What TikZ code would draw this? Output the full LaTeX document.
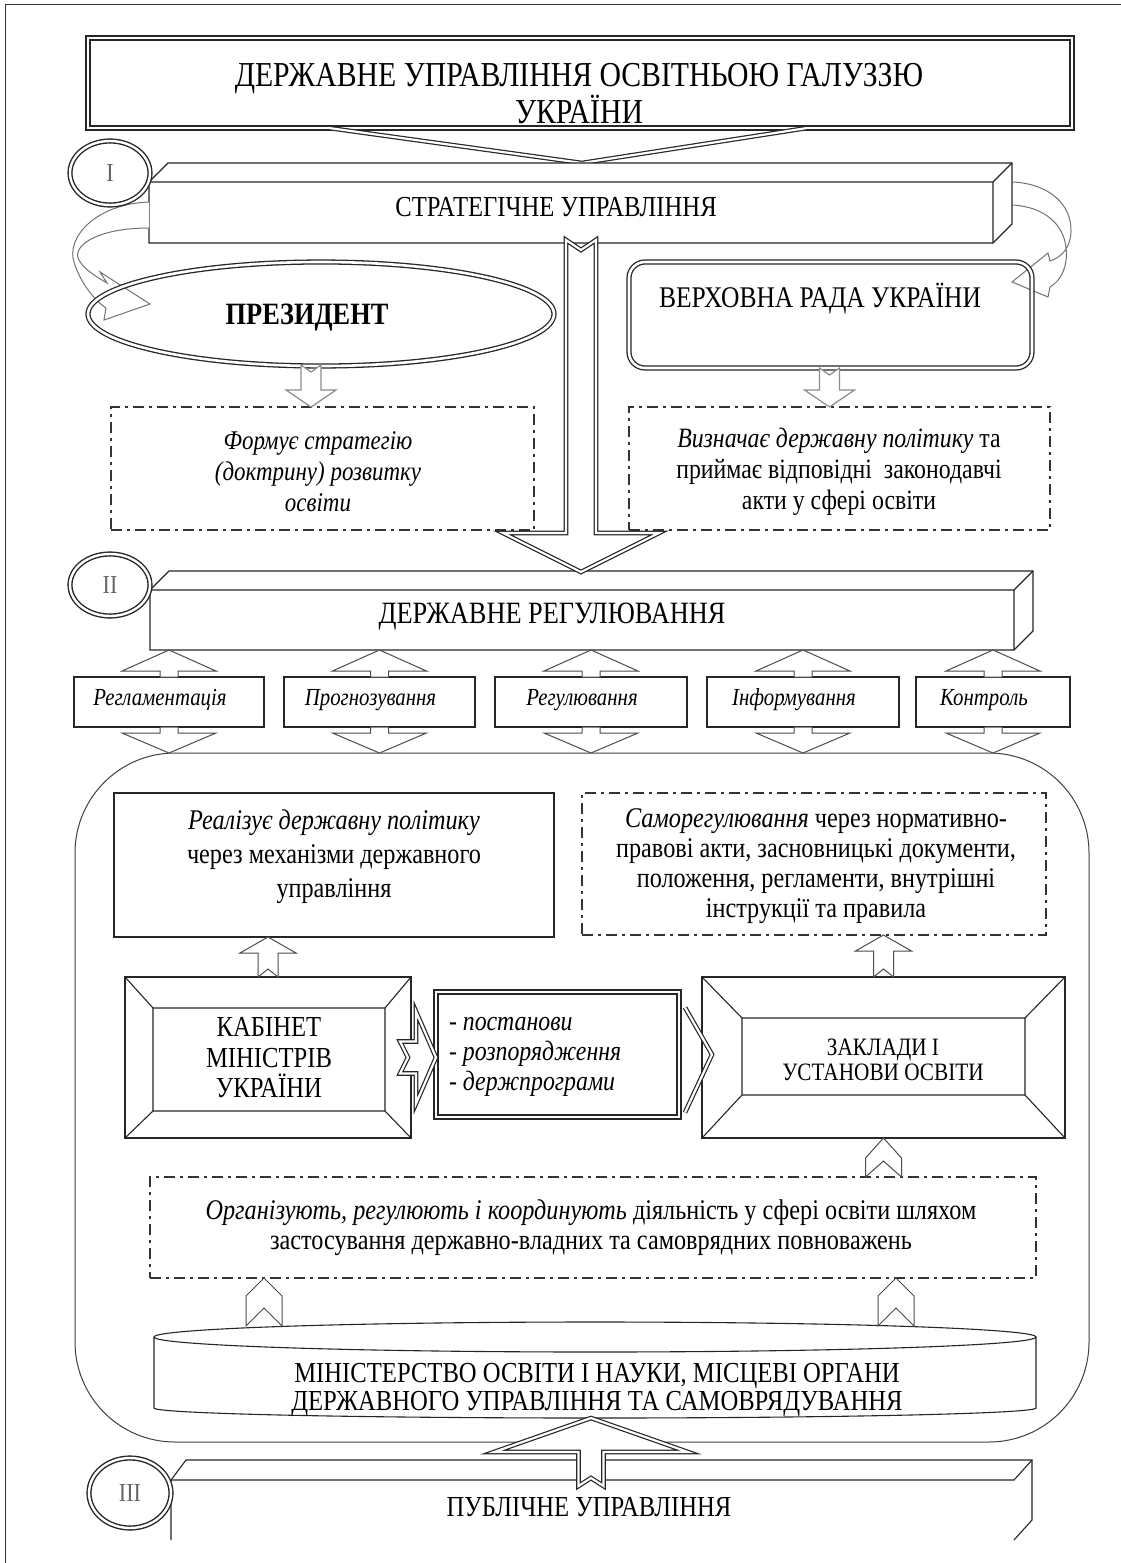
\documentclass[tikz,border=0pt]{standalone}
\usepackage{fontspec}
\setmainfont[FakeStretch=0.85]{Liberation Serif}
\usetikzlibrary{calc,fit,shapes.geometric}
\newcommand\fsz[2]{\fontsize{#1pt}{#2pt}\selectfont}
% vertical block arrow: [style]{tail}{tip}{shaft half}{head half}{head length}{notch}
\newcommand\varrow[7][]{%
  \draw[#1] let \p1=#2, \p2=#3, \n1={ifthenelse(\y2<\y1,1,-1)} in
  (\x1-#4,\y1) -- (\x1-#4,\y2+\n1*#6) -- (\x1-#5,\y2+\n1*#6) -- (\x1,\y2)
  -- (\x1+#5,\y2+\n1*#6) -- (\x1+#4,\y2+\n1*#6) -- (\x1+#4,\y1) -- (\x1,\y1-\n1*#7) -- cycle;}
% horizontal block arrow
\newcommand\harrow[7][]{%
  \draw[#1] let \p1=#2, \p2=#3, \n1={ifthenelse(\x2<\x1,1,-1)} in
  (\x1,\y1-#4) -- (\x2+\n1*#6,\y1-#4) -- (\x2+\n1*#6,\y1-#5) -- (\x2,\y1)
  -- (\x2+\n1*#6,\y1+#5) -- (\x2+\n1*#6,\y1+#4) -- (\x1,\y1+#4) -- (\x1-\n1*#7,\y1) -- cycle;}
% 3D bar: name, x1, y1 (front top), x2, y2 (front bottom), depth
\newcommand\threedbar[6]{%
  \draw[ln, fill=white] (#2,#3) -- ({#2+#6},{#3-#6}) -- ({#4+#6},{#3-#6}) -- ({#4+#6},{#5-#6}) -- (#4,#5) -- (#2,#5) -- cycle;
  \draw[ln] (#2,#3) -- (#4,#3) -- ({#4+#6},{#3-#6}) (#4,#3) -- (#4,#5);
  \node[fit={(#2,#3)(#4,#5)}] (#1) {};}
% bevelled frame: name, outer x1 y1 x2 y2, inner x1 y1 x2 y2
\newcommand\bevelbox[9]{%
  \draw[ln, fill=white] (#2,#3) rectangle (#4,#5);
  \draw[ln] (#6,#7) rectangle (#8,#9)
    (#2,#3) -- (#6,#7) (#4,#3) -- (#8,#7) (#2,#5) -- (#6,#9) (#4,#5) -- (#8,#9);
  \node[fit={(#2,#3)(#4,#5)}] (#1) {};}
\tikzset{
  every node/.style={inner sep=0pt, outer sep=0pt},
  ln/.style={draw=black!85, line width=1.1pt},
  dbl/.style={draw=black!85, line width=1pt, double=white, double distance=2.2pt, line join=miter},
  dd/.style={draw=black!80, line width=2.6pt, dash pattern=on 11pt off 5pt on 3pt off 5pt},
  hol/.style={draw=black!70, line width=1pt, fill=white, line join=miter},
  gry/.style={draw=black!45, line width=1.2pt, fill=white, line join=miter},
  carr/.style={draw=black!55, line width=1pt, fill=white},
  circ/.style={draw=black!85, line width=1.4pt, double=white, double distance=2.4pt, ellipse, fill=white, text=black!60, font=\fsz{26}{26}},
  tx/.style={align=center},
}
\begin{document}
\begin{tikzpicture}[x=1pt,y=-1pt]
\useasboundingbox (0,0) rectangle (1121,1563);
\fill[white] (0,0) rectangle (1121,1563);
\draw[draw=black!80, line width=1pt] (5,1563) -- (5,5) -- (1121,5);

% ---- title
\node[dbl, line width=1.3pt, double distance=2.6pt, fit={(88,38)(1072,128)}] (title) {};
\node[tx, font=\fsz{35}{32}] (titlet) at (579,94) {ДЕРЖАВНЕ УПРАВЛІННЯ ОСВІТНЬОЮ ГАЛУЗЗЮ\\УКРАЇНИ};
\draw[dbl, line width=1.2pt] ($(title.south)+(-251,0)$) -- ($(title.south)+(2,35)$) -- ($(title.south)+(227,0)$);

% ---- level I
\threedbar{bar1}{149}{182}{993}{243}{19}
\node[font=\fsz{29}{29}] (bar1t) at (556,207) {СТРАТЕГІЧНЕ УПРАВЛІННЯ};
\draw[carr] (149,202) .. controls (95,204) and (66,238) .. (74,262) .. controls (80,282) and (94,300) .. (106,308)
  -- (104,320) -- (150,304) -- (100,272) -- (107,283) .. controls (95,276) and (82,268) .. (78,258)
  .. controls (74,244) and (100,228) .. (149,228);
\draw[carr] (1013,182) .. controls (1050,184) and (1072,205) .. (1071,232) .. controls (1070,248) and (1062,257) .. (1050,261)
  -- (1048,253) -- (1012,282) -- (1048,297) -- (1050,287) .. controls (1062,280) and (1068,265) .. (1066,248)
  .. controls (1064,225) and (1045,207) .. (1013,205);
\node[circ, minimum width=80pt, minimum height=64pt] (c1) at (110,173) {I};

\node[dbl, ellipse, minimum width=466pt, minimum height=104pt, line width=1.3pt, double distance=2.6pt] (pres) at (321,314) {};
\node[font=\bfseries\fsz{31}{31}] (prest) at (307,318) {ПРЕЗИДЕНТ};
\node[dbl, line width=1.3pt, double distance=2.6pt, rounded corners=16pt, fit={(629,262)(1032,368)}] (rada) {};
\node[font=\fsz{30}{30}] (radat) at (820,298) {ВЕРХОВНА РАДА УКРАЇНИ};

\node[dd, fit={(111,407)(534,530)}] (lbox) {};
\node[tx, font=\itshape\fsz{27}{31}] (lboxt) at (318,472) {Формує стратегію\\(доктрину) розвитку\\освіти};
\node[dd, fit={(629,407)(1050,530)}] (rbox) {};
\node[tx, font=\fsz{28}{31}] (rboxt) at (839,472) {\textit{Визначає державну політику} та\\приймає відповідні\ \ законодавчі\\акти у сфері освіти};

\varrow[gry]{($(pres.south)+(-10,-1)$)}{(lbox.north)}{10pt}{25pt}{17pt}{7pt}
\varrow[gry]{($(rada.south)+(-1,0)$)}{(rbox.north)}{10pt}{25pt}{17pt}{7pt}

% ---- level II
\threedbar{bar2}{150}{590}{1014}{650}{19}
\node[font=\fsz{31}{31}] (bar2t) at (552,617) {ДЕРЖАВНЕ РЕГУЛЮВАННЯ};
\node[circ, minimum width=80pt, minimum height=62pt] (c2) at (110,585) {II};
\coordinate (ca) at (581,240);
\coordinate (cb) at (581,572);
\varrow[dbl, line width=1.2pt, fill=white]{(ca)}{(cb)}{15pt}{78pt}{39pt}{10pt}

\node[draw=black!75, line width=1pt, rounded corners=100pt, fit={(75,753)(1089,1442)}] (region) {};

\node[ln, minimum width=190pt, minimum height=50pt] (b1) at (169,702) {};
\node[ln, minimum width=191pt, minimum height=50pt] (b2) at (379.5,702) {};
\node[ln, minimum width=192pt, minimum height=50pt] (b3) at (591,702) {};
\node[ln, minimum width=192pt, minimum height=50pt] (b4) at (803,702) {};
\node[ln, minimum width=154pt, minimum height=50pt] (b5) at (993,702) {};
\foreach \b/\t in {b1/Регламентація, b2/Прогнозування, b3/Регулювання, b4/Інформування, b5/Контроль}{
  \node[font=\itshape\fsz{24.5}{24}] (\b t) at ($(\b)+(-9,-2)$) {\t};
  \varrow[hol]{(\b.north)}{(\b.north |- bar2.south)}{9pt}{47pt}{21pt}{0pt}
  \varrow[hol]{(\b.south)}{(\b.south |- region.north)}{9pt}{47pt}{20pt}{0pt}
}

\node[draw=black!85, line width=2.6pt, fit={(114,793)(554,937)}] (impl) {};
\node[tx, font=\fsz{28.5}{34}] (implt) at (334,857) {\textit{Реалізує державну політику}\\через механізми державного\\управління};
\node[dd, fit={(582,793)(1046,935)}] (samo) {};
\node[tx, font=\fsz{28.5}{30}] (samot) at (816,866) {\textit{Саморегулювання} через нормативно-\\правові акти, засновницькі документи,\\положення, регламенти, внутрішні\\інструкції та правила};

\bevelbox{cab}{125}{977}{411}{1138}{153}{1008}{385}{1111}
\node[tx, font=\fsz{29}{30.5}] (cabt) at (269,1058) {КАБІНЕТ\\МІНІСТРІВ\\УКРАЇНИ};
\node[dbl, line width=1.3pt, double distance=2.6pt, fit={(436,992)(679,1117)}] (mid) {};
\node[font=\itshape\fsz{28}{30}, align=left, anchor=west] (midt) at (449,1057) {- постанови\\- розпорядження\\- держпрограми};
\bevelbox{zakl}{702}{977}{1065}{1138}{742}{1018}{1025}{1095}
\node[tx, font=\fsz{25}{25}] (zaklt) at (883,1060) {ЗАКЛАДИ І\\УСТАНОВИ ОСВІТИ};

\varrow[hol]{(cab.north)}{(cab.north |- impl.south)}{10pt}{28pt}{16pt}{8pt}
\varrow[hol]{(zakl.north)}{(zakl.north |- samo.south)}{10pt}{28pt}{16pt}{8pt}
\harrow[dbl, line width=1.2pt, fill=white]{($(cab.east)+(-11,0)$)}{(mid.west)}{16pt}{46pt}{20pt}{8pt}
\draw[dbl, line width=1.2pt] ($(mid.east)+(6,-47)$) -- ($(mid.east)+(33,0)$) -- ($(mid.east)+(6,58)$);

\node[dd, fit={(150,1177)(1036,1278)}] (org) {};
\node[tx, font=\fsz{28.5}{30}] (orgt) at (591,1228) {\textit{Організують, регулюють і координують} діяльність у сфері освіти шляхом\\застосування державно-владних та самоврядних повноважень};
\varrow[hol]{(zakl.south |- org.north)}{(zakl.south)}{18pt}{18pt}{20pt}{16pt}

% ---- cylinder
\draw[ln, fill=white] (154,1337) -- (154,1408) arc[start angle=180, end angle=0, x radius=441, y radius=10] -- (1036,1337);
\draw[ln] (595,1337) ellipse [x radius=441, y radius=15];
\node[fit={(154,1322)(1036,1418)}] (minis) {};
\node[tx, font=\fsz{29}{28}] (minist) at (597,1390) {МІНІСТЕРСТВО ОСВІТИ І НАУКИ, МІСЦЕВІ ОРГАНИ\\ДЕРЖАВНОГО УПРАВЛІННЯ ТА САМОВРЯДУВАННЯ};
\coordinate (m1) at (264,1326);
\coordinate (m2) at (896,1326);
\varrow[hol]{(m1)}{(m1 |- org.south)}{18pt}{18pt}{18pt}{18pt}
\varrow[hol]{(m2)}{(m2 |- org.south)}{18pt}{18pt}{18pt}{18pt}

% ---- level III
\draw[ln] (171,1540) -- (171,1480) -- (186,1460) -- (1032,1460) -- (1032,1520) -- (1014,1540);
\draw[ln] (171,1480) -- (1014,1480) -- (1032,1460);
\node[fit={(171,1480)(1014,1540)}] (bar3) {};
\node[font=\fsz{29}{29}] (publ) at (589,1507) {ПУБЛІЧНЕ УПРАВЛІННЯ};
\node[circ, minimum width=82pt, minimum height=70pt] (c3) at (130,1493) {III};
\coordinate (pa) at (591,1486);
\varrow[dbl, line width=1.2pt, fill=white]{(pa)}{(pa |- minis.south)}{12.5pt}{97pt}{34pt}{8pt}
\end{tikzpicture}
\end{document}
